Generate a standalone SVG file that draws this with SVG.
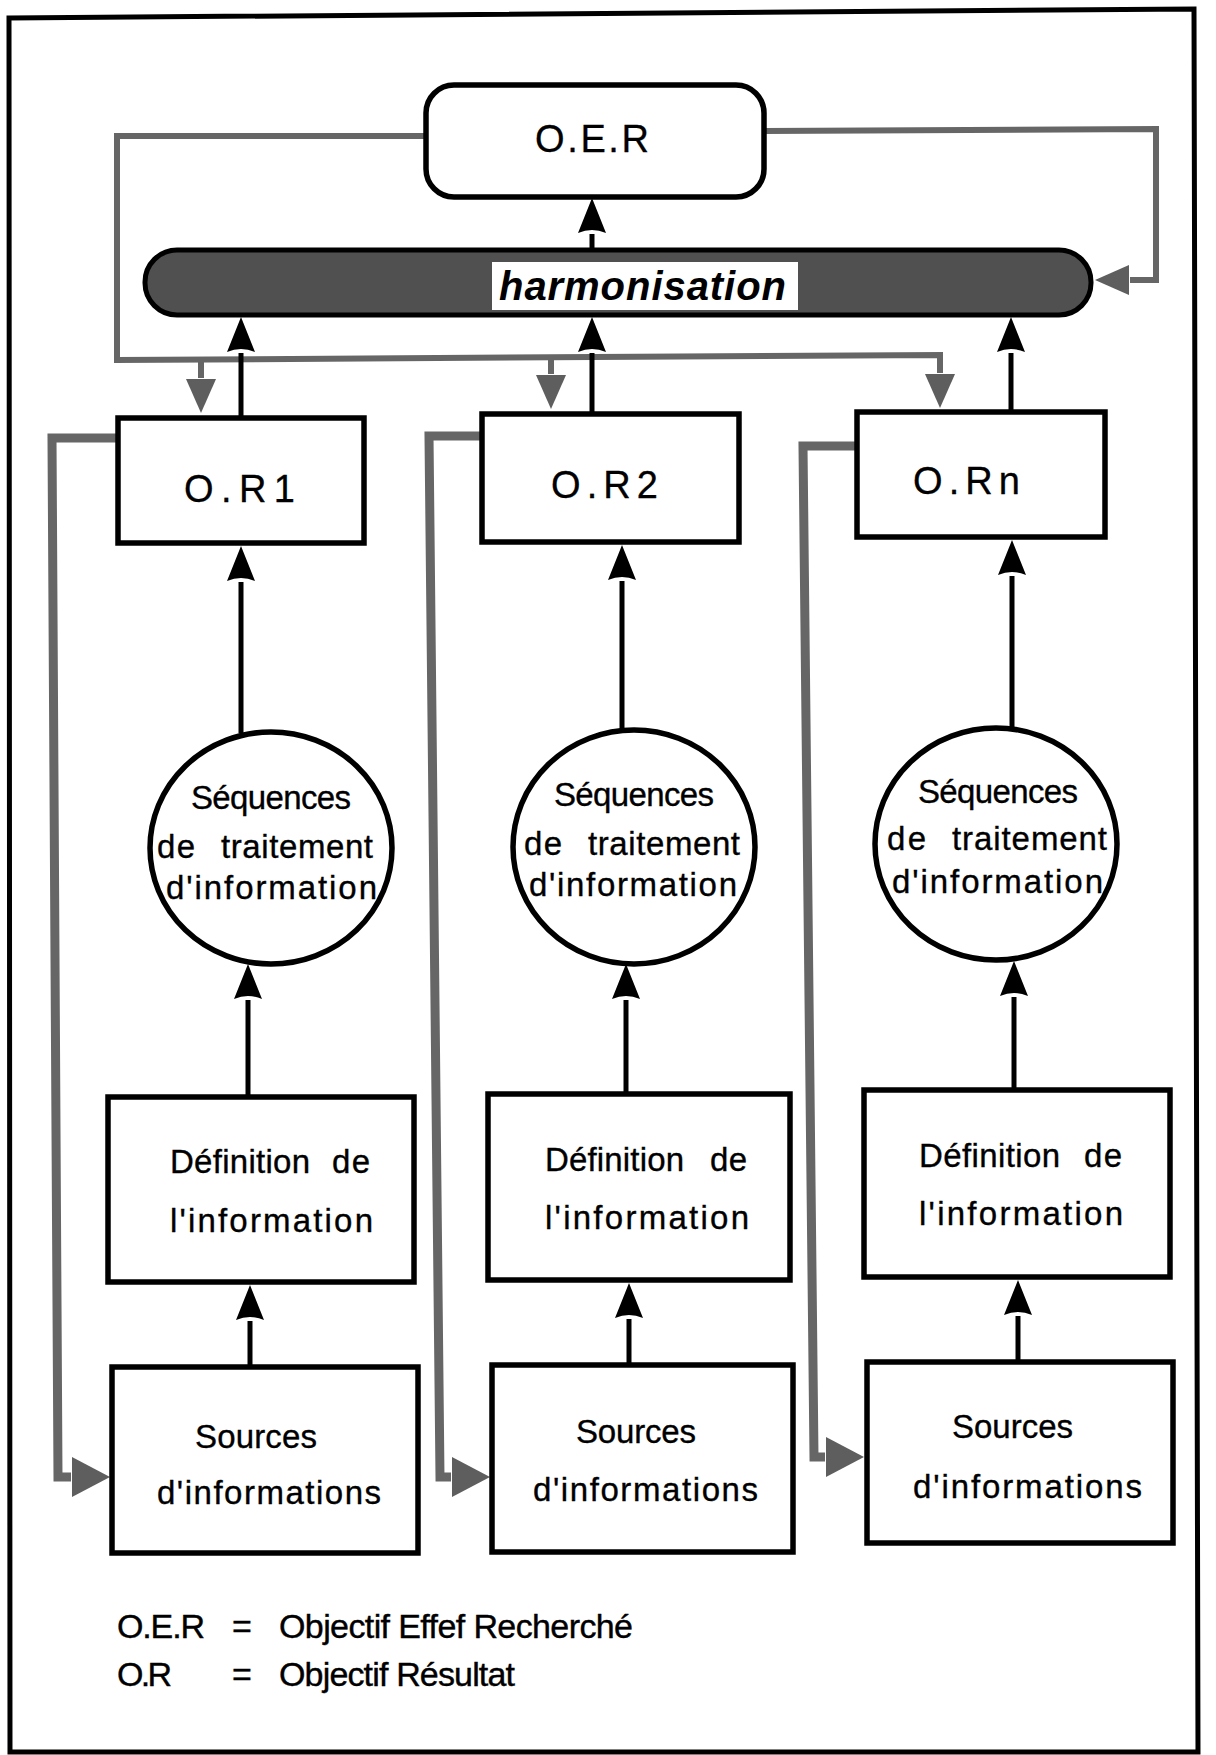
<svg xmlns="http://www.w3.org/2000/svg" width="1216" height="1755" viewBox="0 0 1216 1755">
<style>
  text { font-family: "Liberation Sans", Arial, Helvetica, sans-serif; fill: #000; }
  .box { fill: #fff; stroke: #000; stroke-width: 5.5; }
  .lbl { font-size: 33px; stroke: #000; stroke-width: 0.35; }
  .or { font-size: 38px; stroke: #000; stroke-width: 0.3; }
  .leg { font-size: 34px; stroke: #000; stroke-width: 0.4; }
  .flow { fill: none; stroke: #000; stroke-width: 5; }
  .fb { fill: none; stroke: #666; stroke-width: 6; stroke-linejoin: miter; }
  .col { fill: none; stroke: #666; stroke-width: 9; stroke-linejoin: miter; }
</style>
<defs>
  <marker id="ab" markerUnits="userSpaceOnUse" orient="auto" overflow="visible" refX="-3" refY="0" markerWidth="1" markerHeight="1">
    <path d="M-2,-14 L33,0 L-2,14 Q4,0 -2,-14 Z" fill="#000"/>
  </marker>
  <marker id="ag" markerUnits="userSpaceOnUse" orient="auto" overflow="visible" refX="-3" refY="0" markerWidth="1" markerHeight="1">
    <path d="M-2,-15 L32,0 L-2,15 Z" fill="#5e5e5e"/>
  </marker>
  <marker id="agl" markerUnits="userSpaceOnUse" orient="auto" overflow="visible" refX="-3" refY="0" markerWidth="1" markerHeight="1">
    <path d="M-2,-20 L36,0 L-2,20 Z" fill="#5e5e5e"/>
  </marker>
</defs>

<rect width="1216" height="1755" fill="#fff"/>
<polygon points="9,18 1194,9 1198,1752 10,1752" fill="none" stroke="#000" stroke-width="5"/>

<g id="connectors">
  <!-- feedback loops (grey) -->
  <path class="fb" d="M426,136 L117,136 L117,360 L940,355 L940,373" marker-end="url(#ag)"/>
  <path class="fb" d="M201,360 L201,378" marker-end="url(#ag)"/>
  <path class="fb" d="M551,358 L551,374" marker-end="url(#ag)"/>
  <path class="fb" d="M764,131 L1156,129 L1156,280 L1130,280" marker-end="url(#ag)"/>
  <!-- column return lines (grey) -->
  <path class="col" d="M118,438 L52,438 L58,1477 L71,1477" marker-end="url(#agl)"/>
  <path class="col" d="M482,436 L429,436 L440,1477 L451,1477" marker-end="url(#agl)"/>
  <path class="col" d="M857,446 L803,446 L814,1457 L825,1457" marker-end="url(#agl)"/>
  <!-- black flow arrows -->
  <path class="flow" d="M592,252 L592,234" marker-end="url(#ab)"/>
  <path class="flow" d="M241,418 L241,353" marker-end="url(#ab)"/>
  <path class="flow" d="M592,414 L592,353" marker-end="url(#ab)"/>
  <path class="flow" d="M1011,412 L1011,353" marker-end="url(#ab)"/>
  <path class="flow" d="M241,733 L241,582" marker-end="url(#ab)"/>
  <path class="flow" d="M622,731 L622,581" marker-end="url(#ab)"/>
  <path class="flow" d="M1012,729 L1012,576" marker-end="url(#ab)"/>
  <path class="flow" d="M248,1097 L248,1000" marker-end="url(#ab)"/>
  <path class="flow" d="M626,1094 L626,1000" marker-end="url(#ab)"/>
  <path class="flow" d="M1014,1090 L1014,997" marker-end="url(#ab)"/>
  <path class="flow" d="M250,1367 L250,1321" marker-end="url(#ab)"/>
  <path class="flow" d="M629,1365 L629,1319" marker-end="url(#ab)"/>
  <path class="flow" d="M1018,1362 L1018,1316" marker-end="url(#ab)"/>
</g>

<g id="oer">
  <rect class="box" x="426" y="85" width="338" height="112" rx="28"/>
  <text class="or" x="535" y="152" textLength="114">O.E.R</text>
</g>

<g id="harmonisation">
  <rect x="145" y="250" width="946" height="65" rx="32" fill="#505050" stroke="#000" stroke-width="5"/>
  <rect x="492" y="262" width="306" height="48" fill="#fff"/>
  <text x="499" y="300" font-size="40" font-weight="bold" font-style="italic" textLength="287">harmonisation</text>
</g>

<g id="or1">
  <rect class="box" x="118" y="418" width="246" height="125"/>
  <text class="or" x="184" y="502" textLength="111">O.R1</text>
</g>
<g id="or2">
  <rect class="box" x="482" y="414" width="257" height="128"/>
  <text class="or" x="551" y="498" textLength="107">O.R2</text>
</g>
<g id="orn">
  <rect class="box" x="857" y="412" width="248" height="125"/>
  <text class="or" x="913" y="494" textLength="107">O.Rn</text>
</g>

<g id="seq1">
  <ellipse class="box" cx="271" cy="848" rx="121" ry="116"/>
  <text class="lbl" x="191" y="809" textLength="160">Séquences</text>
  <text class="lbl" x="157" y="858" textLength="38">de</text>
  <text class="lbl" x="221" y="858" textLength="152">traitement</text>
  <text class="lbl" x="166" y="899" textLength="211">d'information</text>
</g>
<g id="seq2">
  <ellipse class="box" cx="634" cy="847" rx="121" ry="117"/>
  <text class="lbl" x="554" y="806" textLength="160">Séquences</text>
  <text class="lbl" x="524" y="855" textLength="38">de</text>
  <text class="lbl" x="588" y="855" textLength="152">traitement</text>
  <text class="lbl" x="529" y="896" textLength="208">d'information</text>
</g>
<g id="seq3">
  <ellipse class="box" cx="996" cy="844" rx="121" ry="116"/>
  <text class="lbl" x="918" y="803" textLength="160">Séquences</text>
  <text class="lbl" x="887" y="850" textLength="39">de</text>
  <text class="lbl" x="952" y="850" textLength="155">traitement</text>
  <text class="lbl" x="892" y="893" textLength="211">d'information</text>
</g>

<g id="def1">
  <rect class="box" x="108" y="1097" width="306" height="185"/>
  <text class="lbl" x="170" y="1173" textLength="140">Définition</text>
  <text class="lbl" x="332" y="1173" textLength="38">de</text>
  <text class="lbl" x="170" y="1232" textLength="203">l'information</text>
</g>
<g id="def2">
  <rect class="box" x="488" y="1094" width="302" height="186"/>
  <text class="lbl" x="545" y="1171" textLength="139">Définition</text>
  <text class="lbl" x="710" y="1171" textLength="37">de</text>
  <text class="lbl" x="545" y="1229" textLength="204">l'information</text>
</g>
<g id="def3">
  <rect class="box" x="864" y="1090" width="306" height="187"/>
  <text class="lbl" x="919" y="1167" textLength="141">Définition</text>
  <text class="lbl" x="1084" y="1167" textLength="38">de</text>
  <text class="lbl" x="919" y="1225" textLength="204">l'information</text>
</g>

<g id="src1">
  <rect class="box" x="112" y="1367" width="306" height="186"/>
  <text class="lbl" x="195" y="1448" textLength="122">Sources</text>
  <text class="lbl" x="157" y="1504" textLength="224">d'informations</text>
</g>
<g id="src2">
  <rect class="box" x="492" y="1365" width="301" height="187"/>
  <text class="lbl" x="576" y="1443" textLength="120">Sources</text>
  <text class="lbl" x="533" y="1501" textLength="225">d'informations</text>
</g>
<g id="src3">
  <rect class="box" x="867" y="1362" width="306" height="181"/>
  <text class="lbl" x="952" y="1438" textLength="121">Sources</text>
  <text class="lbl" x="913" y="1498" textLength="229">d'informations</text>
</g>

<g id="legend">
  <text class="leg" x="117" y="1638" textLength="88">O.E.R</text>
  <text class="leg" x="232" y="1638">=</text>
  <text class="leg" x="279" y="1638" textLength="354">Objectif Effef Recherché</text>
  <text class="leg" x="117" y="1686" textLength="55">O.R</text>
  <text class="leg" x="232" y="1686">=</text>
  <text class="leg" x="279" y="1686" textLength="236">Objectif Résultat</text>
</g>
</svg>
